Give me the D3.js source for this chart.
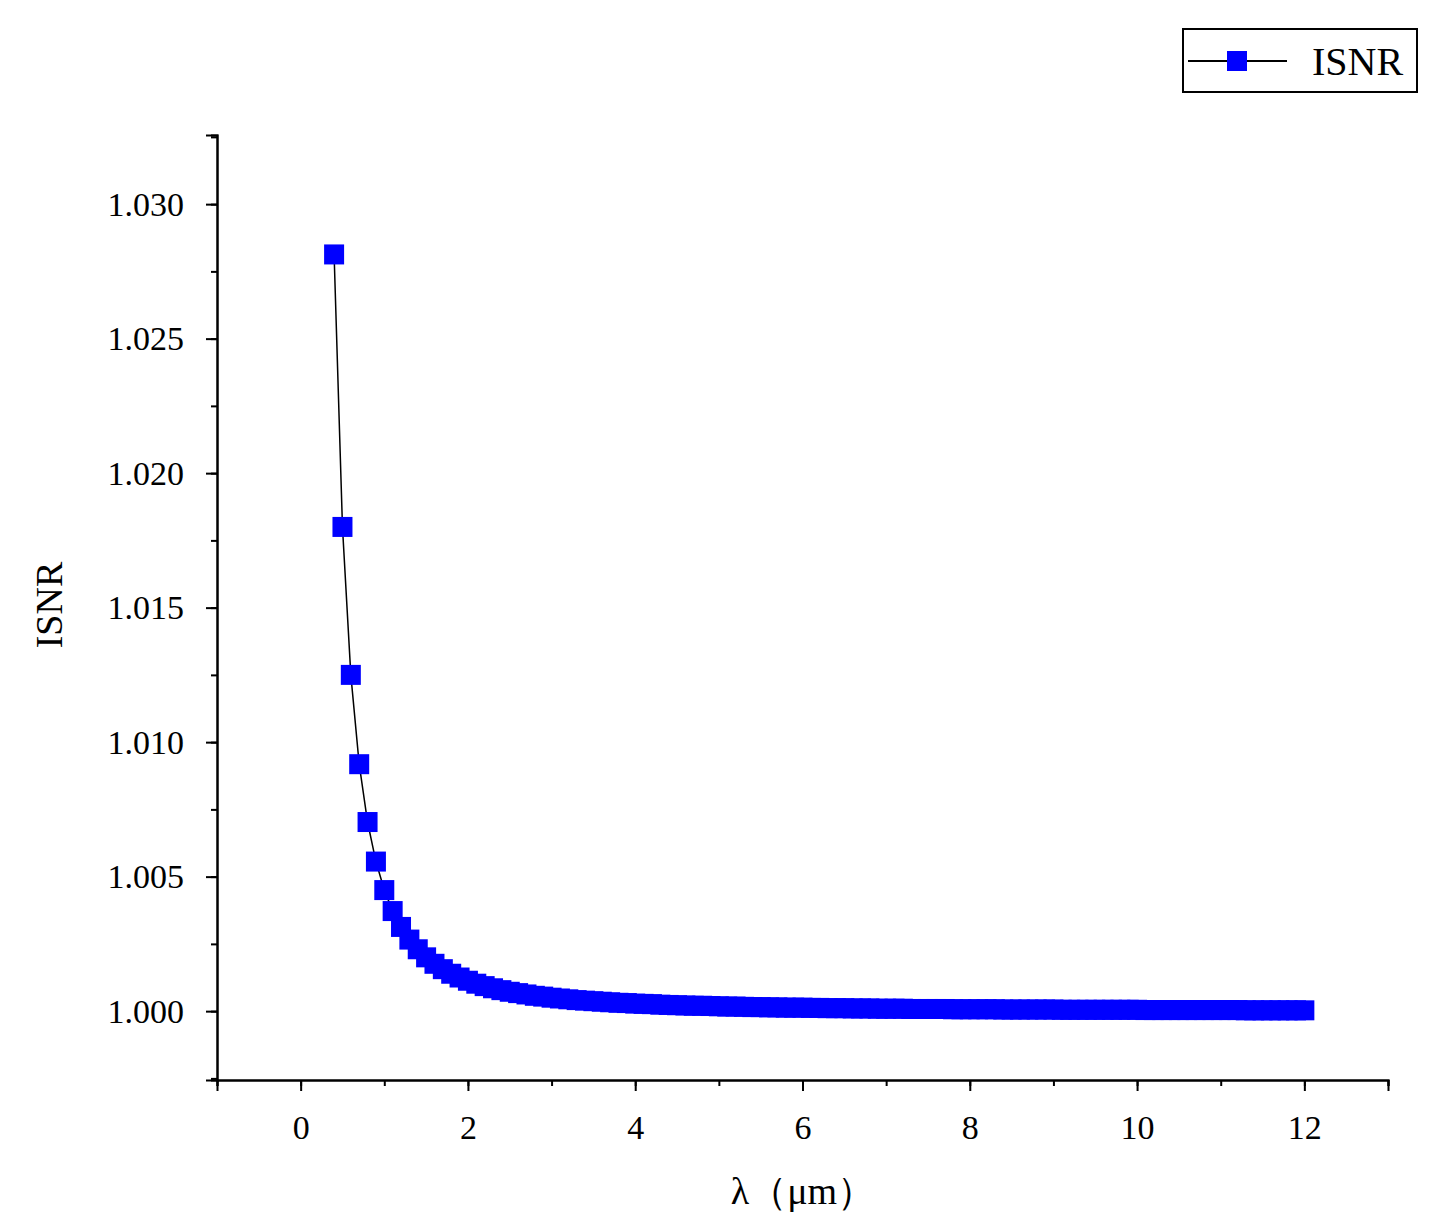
<!DOCTYPE html>
<html><head><meta charset="utf-8">
<script src="https://cdn.jsdelivr.net/npm/d3@7"></script>
<style>body{margin:0;background:#fff}text{font-family:"Liberation Serif","DejaVu Serif",serif;fill:#000}</style>
</head><body><svg id="c" width="1440" height="1229"></svg>
<script>
const xValues = d3.range(117).map(i => +(0.4 + i*0.1).toFixed(1));
const isnrValues = [1.02813,1.01800,1.01250,1.00918,1.00703,1.00556,1.00450,1.00372,1.00313,1.00266,
1.00230,1.00200,1.00176,1.00156,1.00139,1.00125,1.00113,1.00102,1.00093,1.00085,
1.00078,1.00072,1.00067,1.00062,1.00057,1.00054,1.00050,1.00047,1.00044,1.00041,
1.00039,1.00037,1.00035,1.00033,1.00031,1.00030,1.00028,1.00027,1.00026,1.00024,
1.00023,1.00022,1.00021,1.00020,1.00020,1.00019,1.00018,1.00017,1.00017,1.00016,
1.00015,1.00015,1.00014,1.00014,1.00013,1.00013,1.00013,1.00012,1.00012,1.00011,
1.00011,1.00011,1.00010,1.00010,1.00010,1.00009,1.00009,1.00009,1.00009,1.00008,
1.00008,1.00008,1.00008,1.00008,1.00007,1.00007,1.00007,1.00007,1.00007,1.00007,
1.00006,1.00006,1.00006,1.00006,1.00006,1.00006,1.00006,1.00005,1.00005,1.00005,
1.00005,1.00005,1.00005,1.00005,1.00005,1.00005,1.00005,1.00004,1.00004,1.00004,
1.00004,1.00004,1.00004,1.00004,1.00004,1.00004,1.00004,1.00004,1.00004,1.00003,
1.00003,1.00003,1.00003,1.00003,1.00003,1.00003,1.00003];
const xTicks = [0,2,4,6,8,10,12];
const yTicks = [1.000,1.005,1.010,1.015,1.020,1.025,1.030];
const seriesName = "ISNR";

const svg = d3.select("#c");
const L=217,R=1388,T=135,B=1080;
const x = d3.scaleLinear().domain([-1,13]).range([L,R]);
const y = d3.scaleLinear().domain([0.99744,1.03257]).range([B,T]);

svg.append("g").attr("transform",`translate(0,${B})`)
  .call(d3.axisBottom(x).tickValues(d3.range(-1,13.01,1)).tickSize(6).tickFormat(""));
svg.append("g").attr("transform",`translate(0,${B})`)
  .call(d3.axisBottom(x).tickValues(xTicks).tickSize(11).tickFormat(d3.format("d")).tickPadding(24));
svg.append("g").attr("transform",`translate(${L},0)`)
  .call(d3.axisLeft(y).tickValues(d3.range(0,15).map(i=>0.9975+i*0.0025)).tickSize(6).tickFormat(""));
svg.append("g").attr("transform",`translate(${L},0)`)
  .call(d3.axisLeft(y).tickValues(yTicks).tickSize(11).tickFormat(d3.format(".3f")).tickPadding(22));
svg.selectAll(".domain").attr("stroke","#000").attr("stroke-width",2);
svg.selectAll(".tick line").attr("stroke","#000").attr("stroke-width",2);
svg.selectAll(".tick text").style("font-size","34px").style("font-family","'Liberation Serif',serif");

const data = xValues.map((v,i)=>[v,isnrValues[i]]);
svg.append("path").datum(data).attr("fill","none").attr("stroke","#000").attr("stroke-width",1.5)
  .attr("d",d3.line().x(d=>x(d[0])).y(d=>y(d[1])));
const s=20;
svg.append("g").selectAll("rect").data(data).join("rect")
  .attr("x",d=>x(d[0])-s/2).attr("y",d=>y(d[1])-s/2).attr("width",s).attr("height",s).attr("fill","#0000ff");

svg.append("text").attr("transform","translate(62,605) rotate(-90)").attr("text-anchor","middle")
  .style("font-size","38px").text(seriesName);
svg.append("text").attr("x",803).attr("y",1204).attr("text-anchor","middle").style("font-size","38px").text("λ（μm）");

const lg = svg.append("g");
lg.append("rect").attr("x",1183).attr("y",29).attr("width",234).attr("height",63).attr("fill","#fff").attr("stroke","#000").attr("stroke-width",2);
lg.append("line").attr("x1",1188).attr("x2",1287).attr("y1",61).attr("y2",61).attr("stroke","#000").attr("stroke-width",2);
lg.append("rect").attr("x",1227).attr("y",51).attr("width",20).attr("height",20).attr("fill","#0000ff");
lg.append("text").attr("x",1312).attr("y",75).style("font-size","40px").text(seriesName);
</script></body></html>
